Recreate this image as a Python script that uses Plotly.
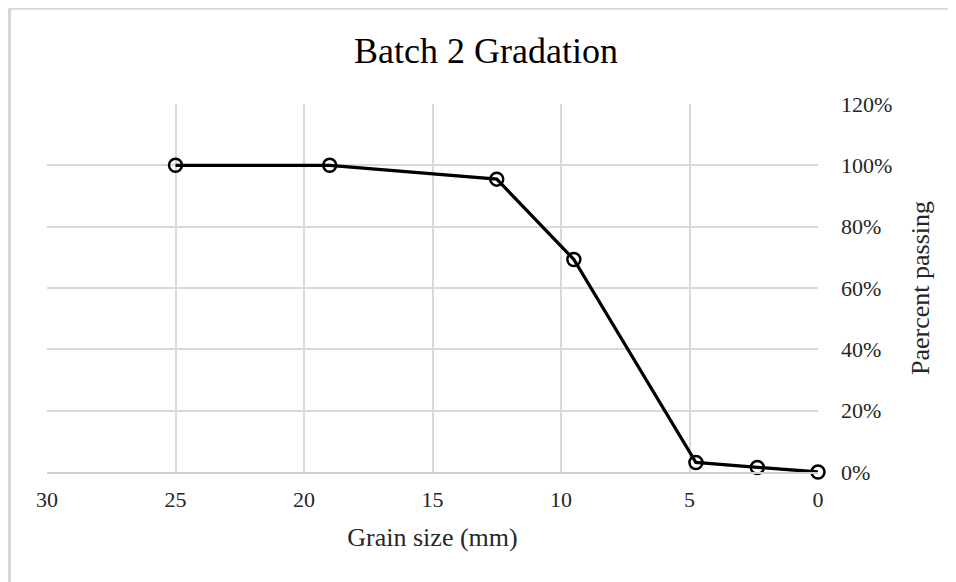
import plotly.graph_objects as go

grain_size_mm = [25, 19, 12.5, 9.5, 4.75, 2.36, 0]
percent_passing = [1.00, 1.00, 0.955, 0.693, 0.031, 0.015, 0.0]

x_ticks = [30, 25, 20, 15, 10, 5, 0]
y_ticks = [0, 0.2, 0.4, 0.6, 0.8, 1.0, 1.2]

FONT = "Liberation Serif, Times New Roman, serif"
GRID = "#d9d9d9"
TXT = "#262626"
BORDER = "#d6d6d6"

# page body adds an 8px offset, so margins are shifted accordingly
L, T, W, H = 39, 96, 771, 368
bx = (1.5 - L) / W           # chart border left edge (paper units), as far left as the figure allows
by = (T + H - 0.5) / H       # chart border top edge (paper units)

fig = go.Figure()
fig.add_trace(go.Scatter(
    x=grain_size_mm, y=percent_passing,
    mode="lines+markers",
    line=dict(color="black", width=3.3),
    marker=dict(symbol="circle-open", size=13, color="black", line=dict(width=2.5, color="black")),
    cliponaxis=False,
    showlegend=False,
))

fig.update_layout(
    width=956, height=582,
    margin=dict(l=L, r=956 - L - W, t=T, b=582 - T - H),
    paper_bgcolor="white", plot_bgcolor="white",
    font=dict(family=FONT, color=TXT, size=22),
    title=dict(text="Batch 2 Gradation", x=478/956, xref="container", xanchor="center",
               y=1 - 42/582, yref="container", yanchor="middle",
               font=dict(family=FONT, size=36, color="black")),
    shapes=[
        dict(type="line", xref="paper", yref="paper", x0=bx, x1=bx, y0=-0.5, y1=by,
             line=dict(color=BORDER, width=3)),
        dict(type="line", xref="paper", yref="paper", x0=bx, x1=1.3, y0=by, y1=by,
             line=dict(color=BORDER, width=2.5)),
    ],
)

fig.update_xaxes(
    range=[30, 0], tickvals=x_ticks, ticktext=[str(v) for v in x_ticks],
    showgrid=True, gridcolor=GRID, gridwidth=1.5,
    showline=True, linecolor="#d0d0d0", linewidth=2,
    zeroline=False, ticks="", ticklabelstandoff=7,
    tickfont=dict(family=FONT, size=22, color=TXT),
    title=dict(text="Grain size (mm)", standoff=16, font=dict(family=FONT, size=26, color=TXT)),
)
fig.update_yaxes(
    range=[0, 1.2], tickvals=y_ticks, tickformat=".0%", side="right",
    showgrid=True, gridcolor=GRID, gridwidth=1.5,
    showline=False, zeroline=False, ticks="", ticklabelstandoff=22,
    tickfont=dict(family=FONT, size=22, color=TXT),
    title=dict(text="Paercent passing", standoff=19, font=dict(family=FONT, size=26, color=TXT)),
)

fig.write_html("out.html")
